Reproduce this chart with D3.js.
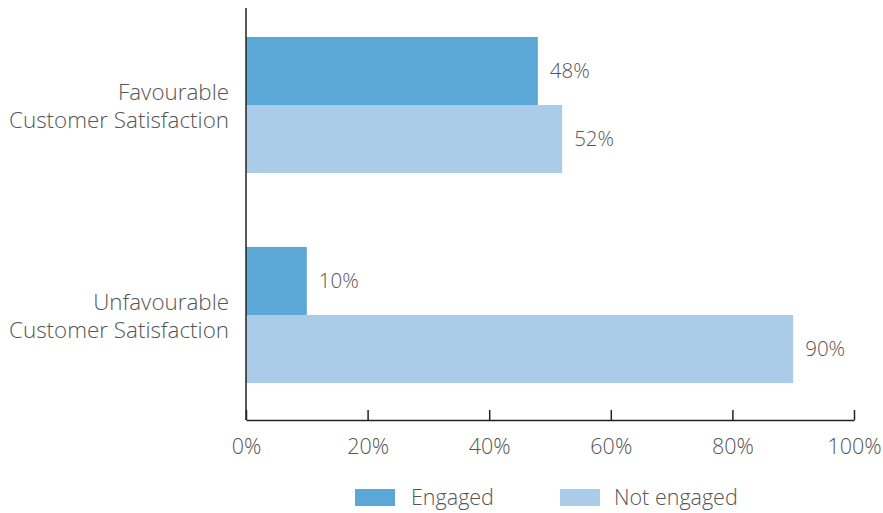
<!DOCTYPE html>
<html><head><meta charset="utf-8">
<script src="https://cdn.jsdelivr.net/npm/d3@7"></script>
<style>
body{margin:0;background:#fff;}
text{font-family:"Open Sans","Noto Sans",sans-serif;font-weight:300;fill:#555;}
</style></head>
<body><svg id="chart" width="883" height="513"></svg>
<script>
const categories = [["Favourable","Customer Satisfaction"],["Unfavourable","Customer Satisfaction"]];
const seriesNames = ["Engaged","Not engaged"];
const engaged = [48, 10];
const notEngaged = [52, 90];
const tickValues = [0, 20, 40, 60, 80, 100];
const colors = ["#5ba8d6", "#aacce8"];

(function(){
const svg = d3.select("#chart");
const mLeft = 246, mRight = 854, mTop = 8, mBottom = 420;
const x = d3.scaleLinear().domain([0, 100]).range([mLeft, mRight]);
const y0 = d3.scaleBand().domain(d3.range(categories.length)).range([0, 420]).paddingInner(0.352).paddingOuter(0.176);
const y1 = d3.scaleBand().domain(seriesNames).range([0, y0.bandwidth()]);
const values = [engaged, notEngaged];

const g = svg.append("g");
categories.forEach((c, i) => {
  seriesNames.forEach((s, j) => {
    const v = values[j][i];
    const yy = y0(i) + y1(s);
    g.append("rect").attr("x", x(0)).attr("y", yy).attr("width", x(v) - x(0)).attr("height", y1.bandwidth()).attr("fill", colors[j]);
    g.append("text").attr("x", x(v) + 12).attr("y", yy + y1.bandwidth()/2).attr("dy", "0.35em")
      .attr("font-size", 20.5).text(v + "%");
  });
  const cy = y0(i) + y0.bandwidth()/2;
  const t = svg.append("text").attr("text-anchor", "end").attr("font-size", 22.4);
  t.append("tspan").attr("x", 229).attr("y", cy - 5).text(c[0]);
  t.append("tspan").attr("x", 229).attr("y", cy + 23).text(c[1]);
});

const xAxis = d3.axisBottom(x).tickValues(tickValues).tickFormat(d => d + "%").tickSize(-10).tickSizeOuter(0);
const ax = svg.append("g").attr("transform", `translate(0,${mBottom})`).call(xAxis);
ax.select(".domain").attr("stroke", "#222").attr("stroke-width", 1.5);
ax.selectAll(".tick line").attr("stroke", "#222").attr("stroke-width", 1.5);
ax.selectAll(".tick text").attr("font-size", 21.5).attr("y", 34).attr("dy", "0").attr("fill", "#555")
  .style("font-family", '"Open Sans","Noto Sans",sans-serif').style("font-weight", 300);
svg.append("line").attr("x1", mLeft).attr("x2", mLeft).attr("y1", mTop).attr("y2", mBottom).attr("stroke", "#222").attr("stroke-width", 1.5);

const legendX = [355, 560];
const legendTextX = [411, 614];
seriesNames.forEach((s, j) => {
  svg.append("rect").attr("x", legendX[j]).attr("y", 489).attr("width", 40).attr("height", 17).attr("fill", colors[j]);
  svg.append("text").attr("x", legendTextX[j]).attr("y", 505).attr("font-size", 21.5).text(s);
});
})();
</script></body></html>
